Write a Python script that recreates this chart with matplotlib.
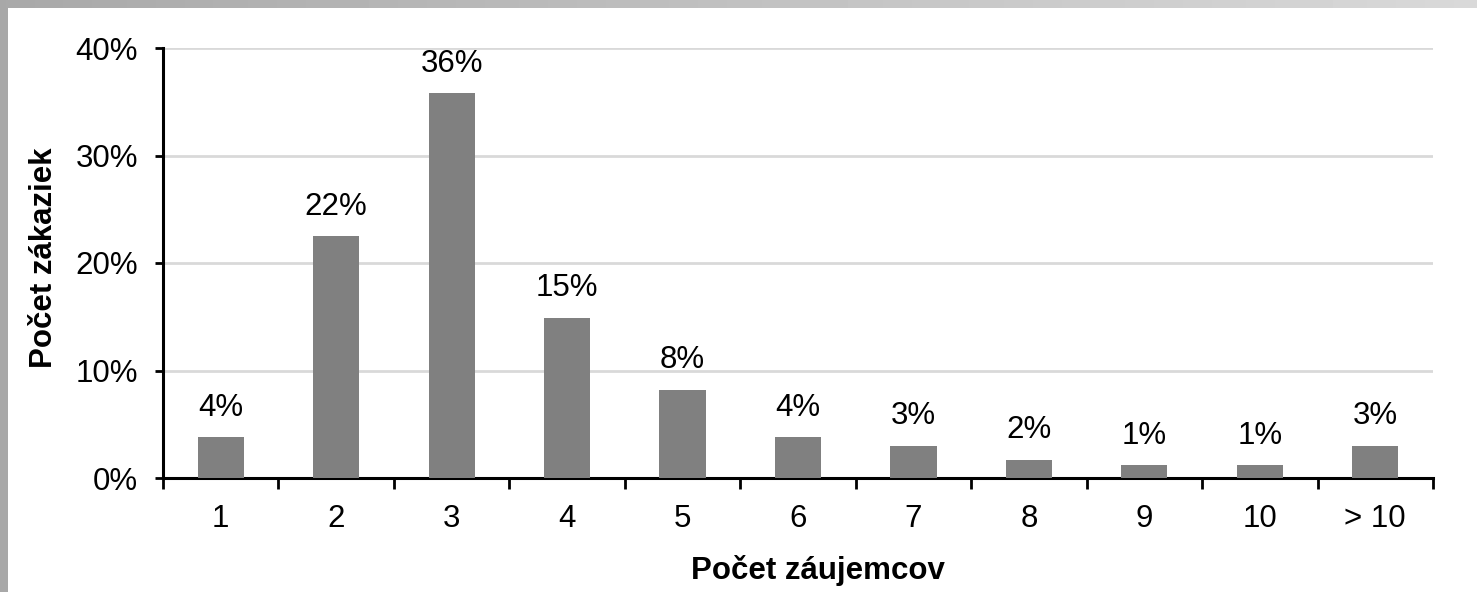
import numpy as np
import matplotlib.pyplot as plt
from matplotlib.ticker import PercentFormatter

plt.rcParams['font.family'] = ['Liberation Sans', 'DejaVu Sans']

categories = ["1", "2", "3", "4", "5", "6", "7", "8", "9", "10", "> 10"]
values = [3.8, 22.5, 35.8, 14.9, 8.2, 3.8, 3.0, 1.7, 1.2, 1.2, 3.0]
labels = ["4%", "22%", "36%", "15%", "8%", "4%", "3%", "2%", "1%", "1%", "3%"]

FS = 22.5

fig = plt.figure(figsize=(14.77, 5.92), dpi=100)

# grey frame strips (left and top)
left_strip = fig.add_axes([0, 0, 8 / 1477, 1])
left_strip.axis("off")
left_strip.add_patch(plt.Rectangle((0, 0), 1, 1, color="#a8a8a8",
                                   transform=left_strip.transAxes))
top_strip = fig.add_axes([0, 1 - 8 / 592, 1, 8 / 592])
top_strip.imshow(np.linspace(0, 1, 256)[None, :], cmap="gray", vmin=-3.474, vmax=1.789,
                 aspect="auto", extent=[0, 1, 0, 1])
top_strip.axis("off")

ax = fig.add_axes([163 / 1477, 1 - 478 / 592, 1270 / 1477, 430 / 592])
x = np.arange(len(categories))
ax.bar(x, values, width=0.4, color="#808080", zorder=3)
for xi, v, lab in zip(x, values, labels):
    ax.annotate(lab, (xi, v), xytext=(0, 15.5), textcoords="offset points",
                ha="center", va="baseline", fontsize=FS)

ax.set_xlim(-0.5, len(categories) - 0.5)
ax.set_ylim(0, 40)
ax.set_yticks([0, 10, 20, 30, 40])
ax.yaxis.set_major_formatter(PercentFormatter(decimals=0))
# ticks between categories, labels centred under the bars
ax.set_xticks(np.arange(-0.5, len(categories), 1.0))
ax.set_xticklabels([])
ax.set_xticks(x, minor=True)
ax.set_xticklabels(categories, minor=True)
ax.tick_params(axis="x", which="major", length=8, width=2, direction="out")
ax.tick_params(axis="x", which="minor", length=0, pad=19, labelsize=FS)
ax.tick_params(axis="y", length=6, width=2, direction="out", labelsize=FS, pad=12)
ax.grid(axis="y", color="#d9d9d9", linewidth=2, zorder=0)
for s in ["top", "right"]:
    ax.spines[s].set_visible(False)
for s in ["left", "bottom"]:
    ax.spines[s].set_linewidth(2.2)

ax.set_xlabel("Počet záujemcov", fontsize=FS, fontweight="bold", va="center")
ax.xaxis.set_label_coords(0.5157, -0.214)
ax.set_ylabel("Počet zákaziek", fontsize=FS, fontweight="bold", va="center")
ax.yaxis.set_label_coords(-0.0937, 0.512)

fig.savefig("out.png", dpi=100)
